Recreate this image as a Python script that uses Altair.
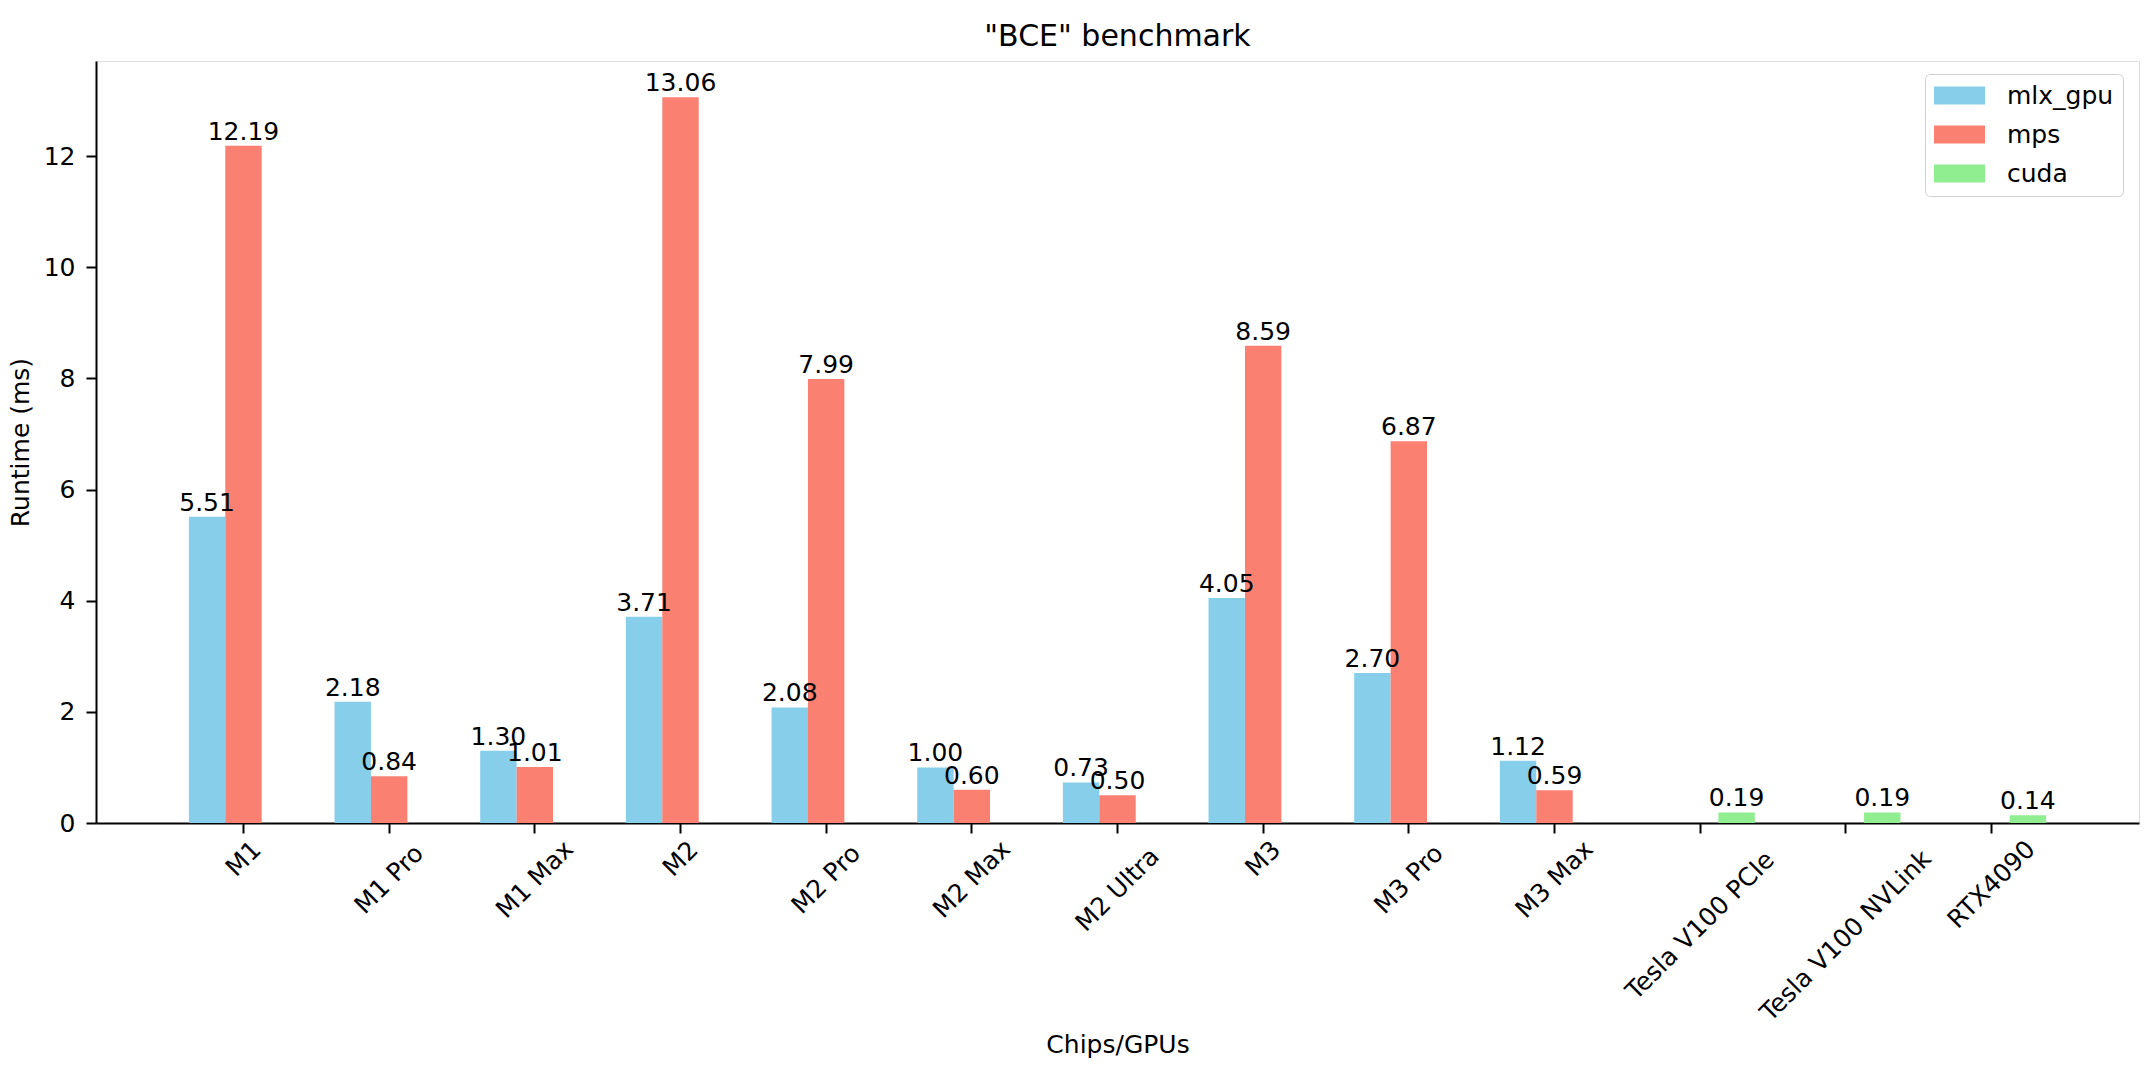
import altair as alt
import pandas as pd

chips = ["M1", "M1 Pro", "M1 Max", "M2", "M2 Pro", "M2 Max", "M2 Ultra",
         "M3", "M3 Pro", "M3 Max", "Tesla V100 PCIe", "Tesla V100 NVLink", "RTX4090"]
mlx_gpu = [5.51, 2.18, 1.30, 3.71, 2.08, 1.00, 0.73, 4.05, 2.70, 1.12, None, None, None]
mps = [12.19, 0.84, 1.01, 13.06, 7.99, 0.60, 0.50, 8.59, 6.87, 0.59, None, None, None]
cuda = [None, None, None, None, None, None, None, None, None, None, 0.19, 0.19, 0.14]
series = ["mlx_gpu", "mps", "cuda"]
colors = ["#87CEEB", "#FA8072", "#90EE90"]

rows = []
for name, vals in zip(series, [mlx_gpu, mps, cuda]):
    for chip, v in zip(chips, vals):
        if v is not None:
            rows.append({"chip": chip, "backend": name, "runtime": v})
df = pd.DataFrame(rows)
labels_df = pd.DataFrame({"chip": chips})

W, H = 2043, 762
FONT = "DejaVu Sans"
FS = 25

x_enc = alt.X(
    "chip:N", sort=chips,
    scale=alt.Scale(paddingInner=0, paddingOuter=0.5125),
    axis=alt.Axis(labels=False, title="Chips/GPUs", titleFontSize=FS, titleFont=FONT,
                  titleFontWeight="normal", titleColor="black", titleY=229,
                  titleBaseline="alphabetic", tickSize=10, tickWidth=2, tickColor="black",
                  domainColor="black", domainWidth=2, grid=False),
)
xo_enc = alt.XOffset("backend:N", sort=series,
                     scale=alt.Scale(domain=series, paddingInner=0, paddingOuter=0.5))
y_enc = alt.Y(
    "runtime:Q",
    scale=alt.Scale(domain=[0, 13.713], nice=False, zero=True),
    axis=alt.Axis(values=[0, 2, 4, 6, 8, 10, 12], title="Runtime (ms)", grid=False,
                  labelFontSize=FS, labelFont=FONT, labelColor="black", labelPadding=11,
                  tickSize=10, tickWidth=2, tickColor="black", domainColor="black",
                  domainWidth=2, titleFontSize=FS, titleFont=FONT, titleFontWeight="normal",
                  titleColor="black", titleAngle=270, titleX=-76, titleY=H / 2,
                  titleAlign="center", titleBaseline="middle"),
)
color_enc = alt.Color(
    "backend:N", sort=series,
    scale=alt.Scale(domain=series, range=colors),
    legend=alt.Legend(title=None, orient="none", legendX=1829, legendY=13,
                      symbolType="M-1,-0.353L1,-0.353L1,0.353L-1,0.353Z", symbolSize=2601,
                      symbolStrokeWidth=0, symbolOpacity=1, labelFontSize=FS, labelFont=FONT,
                      labelColor="black", labelOffset=22, rowPadding=13, padding=9,
                      clipHeight=25,
                      fillColor="rgba(255,255,255,0.8)", strokeColor="#d0d0d0",
                      cornerRadius=5),
)

bars = alt.Chart(df).mark_bar().encode(x=x_enc, xOffset=xo_enc, y=y_enc, color=color_enc)

values = alt.Chart(df).mark_text(
    baseline="alphabetic", align="center", dy=-6, fontSize=FS, font=FONT, color="black"
).encode(x=x_enc, xOffset=xo_enc, y=y_enc, text=alt.Text("runtime:Q", format=".2f"))

# rotated tick labels: centred under the tick, top of the rotated box just below the ticks
# (dx/dy act in the rotated text frame)
xlabels = alt.Chart(labels_df).mark_text(
    angle=315, align="center", baseline="middle", fontSize=FS, font=FONT, color="black",
    dx=alt.expr("-0.25*(14.5*length(datum.chip)+16)"),
    dy=alt.expr("0.25*(14.5*length(datum.chip)+16)"),
).encode(x=alt.X("chip:N", sort=chips), y=alt.value(H + 20), text="chip:N")

chart = alt.layer(bars, values, xlabels).properties(
    width=W, height=H,
    title=alt.TitleParams('"BCE" benchmark', fontSize=30, font=FONT, fontWeight="normal",
                          color="black", offset=16, dy=31, baseline="alphabetic",
                          anchor="middle"),
    autosize=alt.AutoSizeParams(type="none"),
    padding={"left": 88, "top": 53, "right": 3, "bottom": 235},
).configure_view(stroke="black", strokeWidth=2).configure(background="white")

chart.save("out.html", embed_options={"renderer": "svg", "actions": False})
